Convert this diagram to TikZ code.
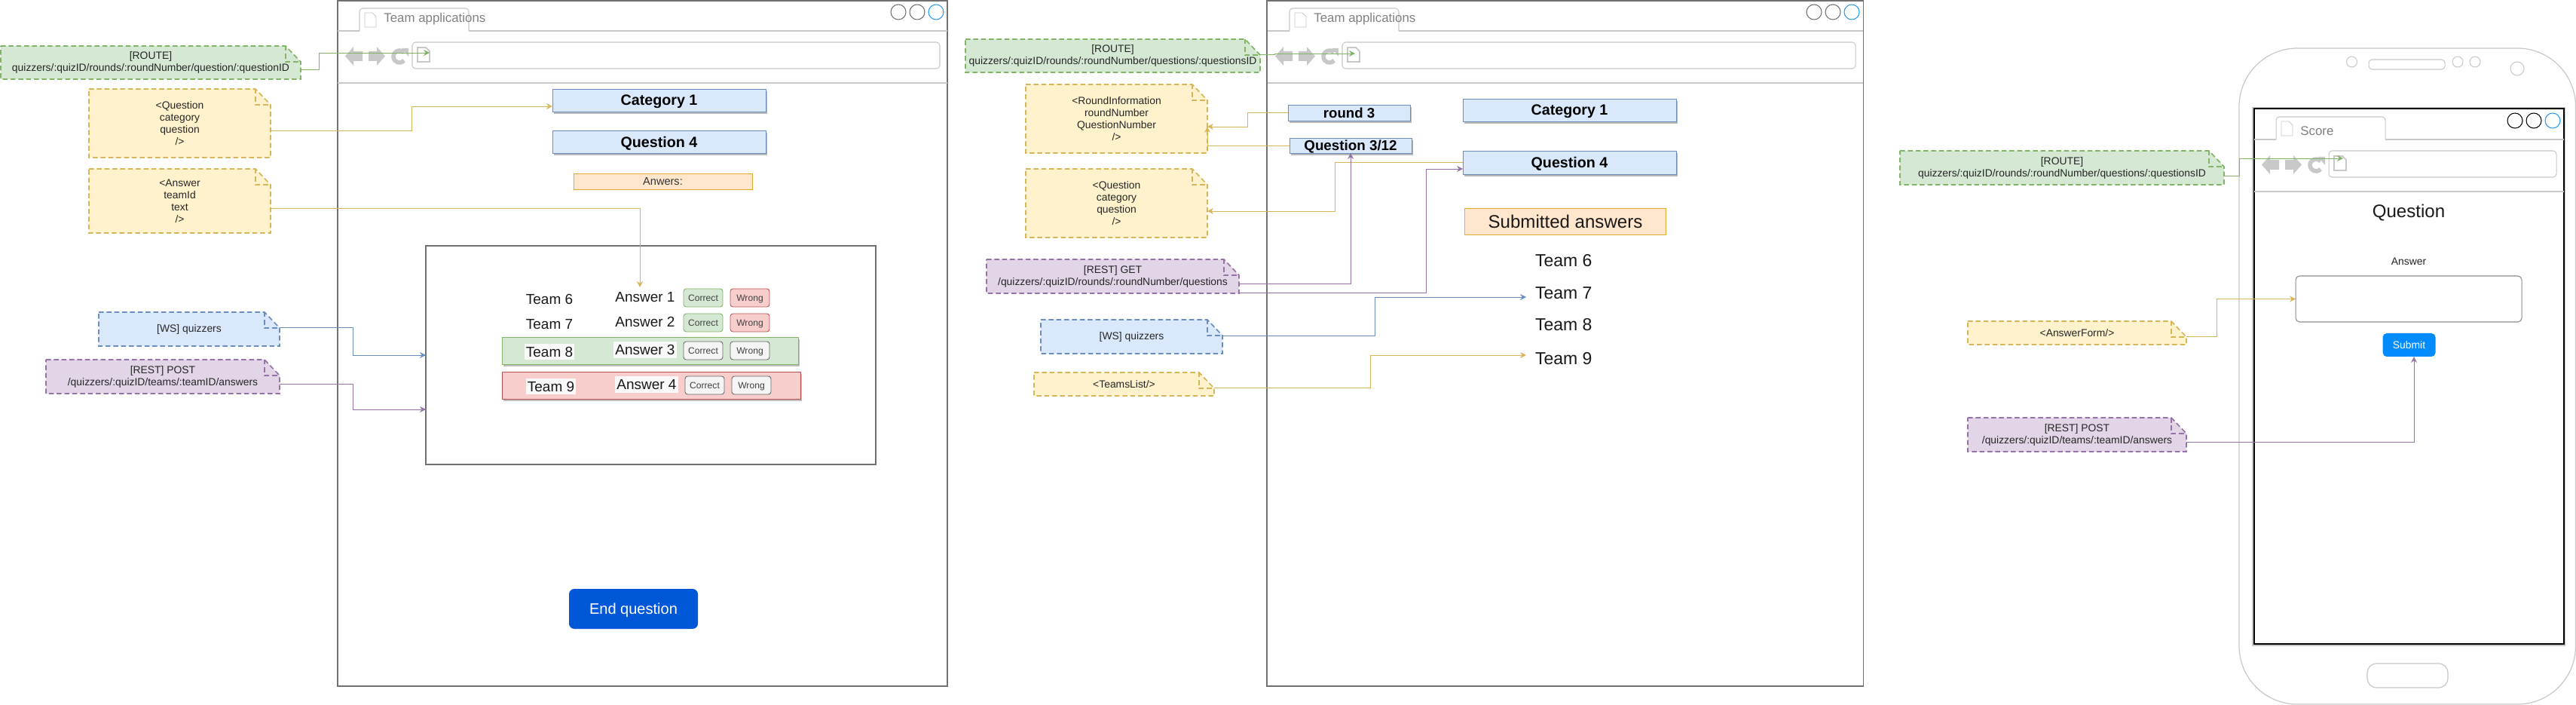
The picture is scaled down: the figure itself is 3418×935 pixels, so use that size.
\documentclass[tikz,border=0pt]{standalone}
\usepackage{fontspec}
\setmainfont{Liberation Sans}
\usetikzlibrary{arrows.meta,calc,shadows}

\definecolor{routeline}{HTML}{82B366}
\definecolor{routefill}{HTML}{D5E8D4}
\definecolor{compline}{HTML}{D6B656}
\definecolor{compfill}{HTML}{FFF2CC}
\definecolor{wsline}{HTML}{6C8EBF}
\definecolor{wsfill}{HTML}{DAE8FC}
\definecolor{restline}{HTML}{9673A6}
\definecolor{restfill}{HTML}{E1D5E7}
\definecolor{wrongline}{HTML}{B85450}
\definecolor{wrongfill}{HTML}{F8CECC}
\definecolor{headline}{HTML}{E2AC30}
\definecolor{headfill}{HTML}{FFE6CC}
\definecolor{chromegrey}{HTML}{C8C8C8}
\definecolor{framegrey}{HTML}{707070}
\definecolor{ringblue}{HTML}{2A9BF0}
\definecolor{endblue}{HTML}{0057D8}
\definecolor{submitblue}{HTML}{008CFF}

\newcommand{\notefont}{\fontsize{7.9}{9.1}\selectfont}

\newcommand{\notebox}[7]{
    \draw[note line,#2] (#3,#4)--({#5-20},#4)--(#5,{#4+21})--(#5,#6)--(#3,#6)--cycle;
    \draw[note line,#2,fill=none] ({#5-20},#4)--++(0,21)--++(20,0);
    \node[note text,minimum width={(#5-#3)*0.02cm},minimum height={(#6-#4)*0.02cm}] (#1) at ({(#3+#5)/2},{(#4+#6)/2}) {#7};
}

\newcommand{\docicon}[4]{
    \draw[chromegrey,fill=white,line width=#4] (#1,#2)--++(#3-5,0)--++(5,5)--++(0,14)--++(-#3,0)--cycle;
}

\newcommand{\chrome}[5]{
    \begin{scope}[shift={(#1,#2)}]
    \draw[chromegrey,line width=.6pt] (0,41)--(29,41);
    \draw[chromegrey,line width=.6pt] (174,41)--(#3,41);
    \draw[chromegrey,line width=.6pt,rounded corners=2.5pt] (29,41)--(29,11)--(174,11)--(174,41);
    \draw[chromegrey,line width=.6pt] (0,110)--(#3,110);
    \draw[chromegrey,line width=.6pt,rounded corners=2.5pt] (99,56) rectangle ({#3-10},91);
    \docicon{36}{17}{15}{.5pt}
    \docicon{106}{63}{16}{1pt}
    \fill[chromegrey] (10,74.5)--(21,62)--(21,68)--(33,68)--(33,81)--(21,81)--(21,87)--cycle;
    \fill[chromegrey] (63,74.5)--(52,62)--(52,68)--(41,68)--(41,81)--(52,81)--(52,87)--cycle;
    \draw[chromegrey,line width=3.2pt] (88.1,69.9) arc(-40:-320:8);
    \fill[chromegrey] (85,64)--(94,64)--(94,75)--cycle;
    \foreach \i/\c in {0/\ringcol,1/\ringcol,2/ringblue}{
        \draw[\c,line width=.6pt] ({#3-65+25*\i},16) circle(10);
    }
    \node[title text] (#4) at (61,\titley) {#5};
    \end{scope}
}

\begin{document}
\begin{tikzpicture}[x=0.02cm,y=-0.02cm]
\tikzset{
    note line/.style={line width=.95pt,dash pattern=on 3.7pt off 2.2pt},
    route note/.style={draw=routeline,fill=routefill},
    comp note/.style={draw=compline,fill=compfill},
    ws note/.style={draw=wsline,fill=wsfill},
    rest note/.style={draw=restline,fill=restfill},
    note text/.style={inner sep=0pt,outer sep=0pt,align=center,text=black!85,font=\notefont},
    title text/.style={anchor=west,inner sep=0pt,text=black!50,font=\fontsize{9.6}{11}\selectfont},
    wire/.style={line width=.55pt,-{Stealth[length=4.5pt,width=4.5pt]}},
    size/.style 2 args={minimum width={#1*0.02cm},minimum height={#2*0.02cm},inner sep=0pt,outer sep=0pt,text depth=0pt},
    heading/.style={draw=wsline,fill=wsfill,line width=.55pt,font=\bfseries\fontsize{11.2}{13}\selectfont,
        drop shadow={shadow xshift=1.2pt,shadow yshift=-1.6pt,fill=black!28,opacity=1}},
    subheading/.style={draw=headline,fill=headfill,line width=.55pt},
    teamtext/.style={font=\fontsize{10.8}{13}\selectfont,text=black!90},
    bigteam/.style={font=\fontsize{13.1}{15}\selectfont,anchor=west,inner sep=0pt,outer sep=0pt,text=black!90},
    band/.style={line width=.55pt,drop shadow={shadow xshift=1.2pt,shadow yshift=-1.6pt,fill=black!25,opacity=1}},
    blank/.style={fill=black!2.5},
    answer button/.style={size={52}{24},rounded corners=2pt,line width=.5pt,font=\fontsize{6.9}{8}\selectfont,text=black!75},
    okbtn/.style={answer button,draw=routeline,fill=routefill},
    nobtn/.style={answer button,draw=wrongline,fill=wrongfill},
    offbtn/.style={answer button,draw=black!60,fill=black!4}}
\useasboundingbox (0,0) rectangle (3418,935);

% first browser
\def\ringcol{framegrey}
\def\titley{25}
\draw[framegrey,line width=.6pt] (448,1) rectangle (1257,910);
\chrome{448}{0}{809}{titleA}{Team applications}
\coordinate (urlA) at (570,70);

\notebox{routeA}{route note}{1}{61}{399}{105}{[ROUTE]\\quizzers/:quizID/rounds/:roundNumber/question/:questionID}
\notebox{quesA}{comp note}{118}{118}{359}{209}{<Question\\category\\question\\/>}
\notebox{answA}{comp note}{118}{224}{359}{309}{<Answer\\teamId\\text\\/>}
\notebox{wsA}{ws note}{131}{414}{371}{459}{[WS] quizzers}
\notebox{restA}{rest note}{61}{477}{371}{522}{[REST] POST\\/quizzers/:quizID/teams/:teamID/answers}

\node[heading,size={283}{30}] (catA) at (874.5,133) {Category 1};
\node[heading,size={283}{30}] (headA) at (874.5,188) {Question 4};
\node[subheading,size={237}{21},font=\fontsize{8.3}{10}\selectfont,text=black!80] (subA) at (879.5,240.5) {Anwers:};

\node[draw=framegrey,line width=.9pt,size={597}{290}] (panel) at (863.5,471) {};
\node[band,draw=routeline,fill=routefill,size={393}{36}] (bandC) at (862.5,465) {};
\node[band,draw=wrongline,fill=wrongfill,size={396}{36}] (bandD) at (864,511) {};

\foreach \t/\ty/\a/\ay/\b in {6/397/1/394/383,7/430/2/427/416}{
    \node[teamtext,size={66}{21}] (team\t A) at (729,\ty) {Team \t};
    \node[teamtext,size={84}{22}] (ans\a A) at (856,\ay) {Answer \a};
    \node[okbtn] (ok\a A) at (933,{\b+12}) {Correct};
    \node[nobtn] (no\a A) at (995,{\b+12}) {Wrong};
}
\node[teamtext,blank,size={66}{21}] (team8A) at (729,466.5) {Team 8};
\node[teamtext,blank,size={84}{22}] (ans3A) at (856,464) {Answer 3};
\node[offbtn] (ok3A) at (933,465) {Correct};
\node[offbtn] (no3A) at (995,465) {Wrong};
\node[teamtext,blank,size={66}{21}] (team9A) at (731,512.5) {Team 9};
\node[teamtext,blank,size={84}{22}] (ans4A) at (858,510) {Answer 4};
\node[offbtn] (ok4A) at (935,511) {Correct};
\node[offbtn] (no4A) at (997,511) {Wrong};

\node[fill=endblue,rounded corners=4pt,text=white,size={171}{53},font=\fontsize{11.4}{14}\selectfont] (endA) at (840.5,807.5) {End question};

\draw[wire,routeline] (routeA.east)++(0,9)--++(24,0)|-(urlA);
\draw[wire,compline] (quesA.east)++(0,9.5)--++(187,0)|-($(catA.west)+(0,8)$);
\draw[wire,compline] (answA.east)++(0,9.5)-|($(ans1A.north)+(-7,-2)$);
\draw[wire,wsline] (wsA.east)++(0,-2.5)--++(97,0)|-(panel.west);
\draw[wire,restline] (restA.east)++(0,9.5)--++(97,0)|-($(panel.west)+(0,72)$);

% second browser
\draw[framegrey,line width=.6pt] (1681,1) rectangle (2472,910);
\chrome{1682}{0}{790}{titleB}{Team applications}
\coordinate (urlB) at (1798,71);

\notebox{routeB}{route note}{1281}{52}{1672}{96}{[ROUTE]\\quizzers/:quizID/rounds/:roundNumber/questions/:questionsID}
\notebox{infoB}{comp note}{1361}{112}{1602}{203}{<RoundInformation\\roundNumber\\QuestionNumber\\/>}
\notebox{quesB}{comp note}{1361}{224}{1602}{315}{<Question\\category\\question\\/>}
\notebox{getB}{rest note}{1309}{344}{1644}{389}{[REST] GET\\/quizzers/:quizID/rounds/:roundNumber/questions}
\notebox{wsB}{ws note}{1381}{424}{1622}{469}{[WS] quizzers}
\notebox{listB}{comp note}{1372}{494}{1611}{525}{<TeamsList/>}

\node[heading,size={162}{21},font=\bfseries\fontsize{10.6}{13}\selectfont] (roundB) at (1790,149.5) {round 3};
\node[heading,size={162}{20},font=\bfseries\fontsize{10.7}{13}\selectfont] (countB) at (1792,193) {Question 3/12};
\node[heading,size={283}{30}] (catB) at (2082.5,146) {Category 1};
\node[heading,size={283}{31}] (headB) at (2082.5,215.5) {Question 4};
\node[subheading,size={267}{35},font=\fontsize{13.7}{16}\selectfont,text=black!90] (subB) at (2077,293.5) {Submitted answers};

\foreach \t/\ty in {6/345.5,7/389,8/430.5,9/476}{
    \node[bigteam] (team\t B) at (2037,\ty) {Team \t};
}

\draw[wire,routeline] (routeB.east)++(0,-2)--++(19,0)|-(urlB);
\draw[wire,compline] (roundB.west)--++(-54,0)|-($(infoB.east)+(0,10.5)$);
\draw[wire,compline] (countB.west)-|($(infoB.east)+(0,10.5)$);
\draw[wire,compline] (headB.west)--++(-170,0)|-($(quesB.east)+(0,10.5)$);
\draw[wire,restline] (getB.east)++(0,9.5)-|(countB.south);
\draw[wire,restline] (getB.south east)++(0,-1)--++(248,0)|-($(headB.west)+(0,8.5)$);
\draw[wire,wsline] (wsB.east)++(0,-1.5)--++(202,0)|-($(team7B.west)+(-12,5)$);
\draw[wire,compline] (listB.east)++(0,4.5)--++(207.6,0)|-($(team9B.west)+(-12,-5)$);

% phone
\draw[chromegrey,line width=.7pt,rounded corners=44pt] (2971,64) rectangle (3417.5,934);
\draw[chromegrey,line width=.7pt] (2989,143) rectangle (3403,856);
\draw[chromegrey,line width=.6pt] (3120.5,82) circle(7);
\draw[chromegrey,line width=.6pt,rounded corners=2.5pt] (3143,79) rectangle (3244,92);
\foreach \cx in {3261,3284}{
    \draw[chromegrey,line width=.6pt] (\cx,82) circle(7);
}
\draw[chromegrey,line width=.6pt] (3340,91) circle(9);
\draw[chromegrey,line width=.7pt,rounded corners=7pt] (3141,880) rectangle (3248,912);
\draw[black,line width=.9pt] (2991,144) rectangle (3402,854);
\def\ringcol{black}
\def\titley{30}
\chrome{2991}{144}{411}{titleC}{Score}
\coordinate (urlC) at (3109,210);

\notebox{routeC}{route note}{2521}{200}{2951}{245}{[ROUTE]\\quizzers/:quizID/rounds/:roundNumber/questions/:questionsID}
\notebox{formC}{comp note}{2611}{426}{2901}{457}{<AnswerForm/>}
\notebox{postC}{rest note}{2611}{554}{2901}{599}{[REST] POST\\/quizzers/:quizID/teams/:teamID/answers}

\node[size={120}{30},font=\fontsize{13.7}{16}\selectfont,text=black!90] (headC) at (3196,280) {Question};
\node[size={80}{18},font=\notefont,text=black!85] (labelC) at (3196,347) {Answer};
\node[draw=black!45,line width=.6pt,rounded corners=3pt,size={300}{61}] (inputC) at (3196,396.5) {};
\node[fill=submitblue,rounded corners=3pt,text=white,size={70}{31},font=\notefont] (submitC) at (3196.5,457.5) {Submit};

\draw[wire,routeline] (routeC.east)++(0,10.5)--++(20,0)|-(urlC);
\draw[wire,compline] (formC.east)++(0,4.5)--++(40,0)|-(inputC.west);
\draw[wire,restline] (postC.east)++(0,9.5)-|($(submitC.south)+(6.5,0)$);
\end{tikzpicture}
\end{document}
